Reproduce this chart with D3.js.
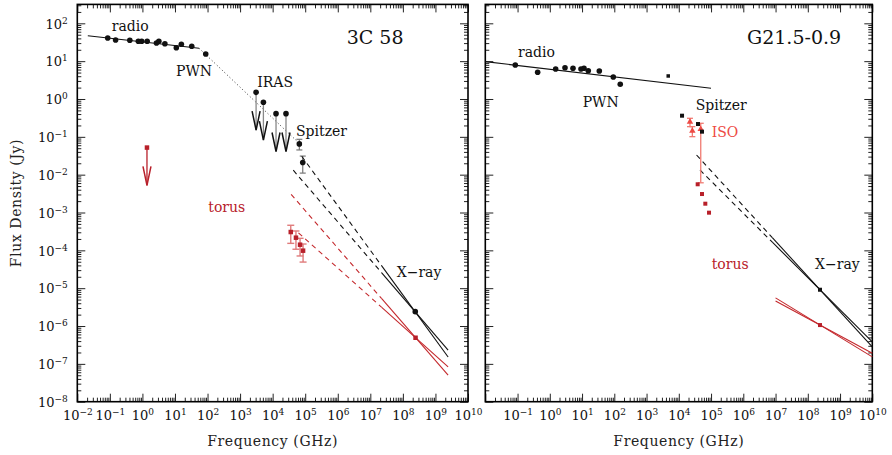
<!DOCTYPE html>
<html>
<head>
<meta charset="utf-8">
<title>3C 58 / G21.5-0.9</title>
<style>
  body { margin: 0; background: #fff; }
  svg text { font-family: "DejaVu Serif", serif; }
</style>
</head>
<body>
<svg width="892" height="455"></svg>
<script src="https://cdnjs.cloudflare.com/ajax/libs/d3/7.8.5/d3.min.js"></script>
<script>
// ---- 3C 58 (left panel) ----
const radio3cFreq = [0.086, 0.15, 0.41, 0.75, 0.95, 1.4, 2.7, 3.2, 4.9, 11, 15.7, 32.7, 88];
const radio3cFlux = [40.9, 36.2, 35.6, 33.5, 33.5, 33.5, 30.2, 33.5, 28.9, 22.7, 27.9, 24.7, 15.5];
const radio3cFitFreq = [0.021, 55];
const radio3cFitFlux = [47, 21.9];
const break3cFreq = [55, 8.6e4];
const break3cFlux = [21.9, 0.054];
const iras3cFreq = [3.1e3, 5.2e3, 1.27e4, 2.57e4];
const iras3cFlux = [1.5, 0.82, 0.41, 0.41];
const spitzer3cFreq = [6.6e4, 8.4e4];
const spitzer3cFlux = [0.065, 0.021];
const spitzer3cLo = [0.045, 0.011];
const spitzer3cHi = [0.086, 0.031];
const torusLimit3cFreq = [1.38];
const torusLimit3cFlux = [0.052];
const torus3cFreq = [3.6e4, 5.2e4, 6.95e4, 8.6e4];
const torus3cFlux = [3.05e-4, 2.16e-4, 1.41e-4, 9.8e-5];
const torus3cLo = [1.53e-4, 1.07e-4, 7.1e-5, 4.9e-5];
const torus3cHi = [4.6e-4, 3.25e-4, 2.08e-4, 1.47e-4];
const xray3cFreq = [2.4e8];
const xray3cFlux = [2.4e-6];
const xrayTorus3cFreq = [2.45e8];
const xrayTorus3cFlux = [4.9e-7];
// power laws: [dashed start, solid start, solid end]
const xray3cModelFreq = [[4.3e4, 2.24e7, 2.45e9], [7.8e4, 2.24e7, 2.45e9]];
const xray3cModelFlux = [[1.31e-2, 2.54e-5, 2.31e-7], [3.07e-2, 3.88e-5, 1.52e-7]];
const torusX3cModelFreq = [[3.7e4, 2.24e7, 2.45e9], [6.2e4, 2.24e7, 2.45e9]];
const torusX3cModelFlux = [[3.01e-3, 5.27e-6, 5.04e-8], [2.91e-4, 3.11e-6, 8.36e-8]];

// ---- G21.5-0.9 (right panel) ----
const radioG21Freq = [0.085, 0.42, 1.52, 2.96, 5.24, 9.27, 11.5, 15.6, 34.3, 93, 153];
const radioG21Flux = [7.9, 5.1, 6.2, 6.7, 6.5, 6.2, 6.5, 5.6, 5.5, 3.8, 2.45];
const radioG21SqFreq = [4.7e3];
const radioG21SqFlux = [4.06];
const radioG21FitFreq = [0.01, 1e5];
const radioG21FitFlux = [9.7, 1.92];
const spitzerG21Freq = [1.26e4, 3.94e4, 5.24e4];
const spitzerG21Flux = [0.362, 0.218, 0.137];
const isoG21Freq = [2.22e4, 2.63e4, 4.79e4];
const isoG21Flux = [0.25, 0.143, 0.16];
const isoG21Lo = [0.186, 0.101, 0.0061];
const isoG21Hi = [0.309, 0.186, 0.228];
const torusG21Freq = [3.85e4, 5.24e4, 6.64e4, 8.65e4];
const torusG21Flux = [5.57e-3, 3.08e-3, 1.71e-3, 9.9e-4];
const xrayG21Freq = [2.39e8];
const xrayG21Flux = [9.1e-6];
const xrayTorusG21Freq = [2.39e8];
const xrayTorusG21Flux = [1.06e-6];
const xrayG21ModelFreq = [[4.54e4, 7.94e6, 1e10], [3.55e4, 7.94e6, 1e10]];
const xrayG21ModelFlux = [[1.33e-2, 1.64e-4, 3.81e-7], [3.31e-2, 2.16e-4, 2.83e-7]];
const torusXG21ModelFreq = [[1e7, 1e10], [1e7, 1e10]];
const torusXG21ModelFlux = [[4.58e-6, 1.91e-7], [5.55e-6, 1.53e-7]];

// tick values
const xDecades = d3.range(-2, 11).map(e => Math.pow(10, e));
const yDecades = d3.range(-8, 3).map(e => Math.pow(10, e));
const xMinor = [];
for (let e = -2; e < 10; e++) for (let k = 2; k < 10; k++) xMinor.push(k * Math.pow(10, e));
const yMinor = [];
for (let e = -8; e <= 2; e++) for (let k = 2; k < 10; k++) if (k * Math.pow(10, e) < Math.pow(10, 2.5)) yMinor.push(k * Math.pow(10, e));

const RED = "#b8202a", RED_LINE = "#c4282c", RED_ERR = "#e07b7b", ISO_RED = "#ee4a44";

const svg = d3.select("svg");
const y = d3.scaleLog().domain([1e-8, Math.pow(10, 2.5)]).range([401.7, 4.4]);
const xL = d3.scaleLog().domain([1e-2, 1e10]).range([77.3, 468]);
const xR = d3.scaleLog().domain([1e-2, 1e10]).range([485.3, 872.3]);

const zip = (a, b) => a.map((v, i) => [v, b[i]]);

function sup(sel, d) {
  const e = Math.round(Math.log10(d));
  sel.text(null);
  sel.append("tspan").text("10");
  sel.append("tspan").attr("dy", -5).attr("font-size", 9).text(String(e).replace("-", "\u2212"));
}

function axes(x, xLabels, yLabels) {
  const [x0, x1] = x.range();
  const [yb, yt] = y.range();
  const tick = (g) => { g.select(".domain").remove(); g.selectAll("line").attr("stroke", "#222"); };

  // bottom
  svg.append("g").attr("transform", `translate(0,${yb})`)
    .call(d3.axisBottom(x).tickValues(xMinor).tickSize(-4).tickFormat(""))
    .call(tick);
  const gb = svg.append("g").attr("transform", `translate(0,${yb})`)
    .call(d3.axisBottom(x).tickValues(xDecades).tickSize(-8).tickFormat(""))
    .call(tick);
  gb.selectAll(".tick text")
    .attr("y", 18.5).attr("dy", null)
    .attr("font-size", 13).attr("fill", "#111").attr("font-family", "DejaVu Serif")
    .each(function (d) { if (xLabels.includes(d)) sup(d3.select(this), d); });

  // top
  svg.append("g").attr("transform", `translate(0,${yt})`)
    .call(d3.axisTop(x).tickValues(xMinor).tickSize(-4).tickFormat("")).call(tick);
  svg.append("g").attr("transform", `translate(0,${yt})`)
    .call(d3.axisTop(x).tickValues(xDecades).tickSize(-8).tickFormat("")).call(tick);

  // left
  svg.append("g").attr("transform", `translate(${x0},0)`)
    .call(d3.axisLeft(y).tickValues(yMinor).tickSize(-4).tickFormat("")).call(tick);
  const gl = svg.append("g").attr("transform", `translate(${x0},0)`)
    .call(d3.axisLeft(y).tickValues(yDecades).tickSize(-8).tickFormat("")).call(tick);
  if (yLabels) {
    gl.selectAll(".tick text")
      .attr("x", -9.5).attr("dy", "0.36em")
      .attr("font-size", 13).attr("fill", "#111").attr("font-family", "DejaVu Serif")
      .each(function (d) { sup(d3.select(this), d); });
  }

  // right
  svg.append("g").attr("transform", `translate(${x1},0)`)
    .call(d3.axisRight(y).tickValues(yMinor).tickSize(-4).tickFormat("")).call(tick);
  svg.append("g").attr("transform", `translate(${x1},0)`)
    .call(d3.axisRight(y).tickValues(yDecades).tickSize(-8).tickFormat("")).call(tick);

  svg.append("rect")
    .attr("x", x0).attr("y", yt).attr("width", x1 - x0).attr("height", yb - yt)
    .attr("fill", "none").attr("stroke", "#000").attr("stroke-width", 1.6);

  svg.append("text")
    .attr("x", (x0 + x1) / 2).attr("y", 446)
    .attr("text-anchor", "middle").attr("font-size", 14).attr("letter-spacing", 0.6)
    .attr("fill", "#222")
    .text("Frequency (GHz)");
}

function line(x, pts, color, width, dash) {
  svg.append("path")
    .datum(pts)
    .attr("d", d3.line().x(d => x(d[0])).y(d => y(d[1])))
    .attr("fill", "none").attr("stroke", color).attr("stroke-width", width)
    .attr("stroke-dasharray", dash || null);
}

function circles(x, pts, color, r) {
  svg.append("g").selectAll("circle").data(pts).enter().append("circle")
    .attr("cx", d => x(d[0])).attr("cy", d => y(d[1])).attr("r", r).attr("fill", color);
}

function squares(x, pts, color, s) {
  svg.append("g").selectAll("rect").data(pts).enter().append("rect")
    .attr("x", d => x(d[0]) - s / 2).attr("y", d => y(d[1]) - s / 2)
    .attr("width", s).attr("height", s).attr("fill", color);
}

function errbars(x, freq, lo, hi, color, cap, width) {
  const g = svg.append("g").attr("stroke", color).attr("stroke-width", width || 1.2).attr("fill", "none");
  freq.forEach((f, i) => {
    const cx = x(f);
    g.append("line").attr("x1", cx).attr("x2", cx).attr("y1", y(lo[i])).attr("y2", y(hi[i]));
    g.append("line").attr("x1", cx - cap).attr("x2", cx + cap).attr("y1", y(lo[i])).attr("y2", y(lo[i]));
    g.append("line").attr("x1", cx - cap).attr("x2", cx + cap).attr("y1", y(hi[i])).attr("y2", y(hi[i]));
  });
}

function limits(x, pts, shaft, head) {
  pts.forEach(d => {
    const cx = x(d[0]), y0 = y(d[1]), y1 = y(d[1] / 10);
    svg.append("line").attr("x1", cx).attr("x2", cx).attr("y1", y0).attr("y2", y1)
      .attr("stroke", shaft).attr("stroke-width", 1.3);
    svg.append("path").attr("d", `M${cx - 4},${y1 - 19}L${cx},${y1}L${cx + 4},${y1 - 19}`)
      .attr("fill", "none").attr("stroke", head).attr("stroke-width", 1.5);
  });
}

function model(x, freqs, fluxes, color) {
  freqs.forEach((fr, i) => {
    const pts = zip(fr, fluxes[i]);
    if (pts.length === 3) {
      line(x, pts.slice(0, 2), color, 1.1, "5,4");
      line(x, pts.slice(1), color, 1.1);
    } else {
      line(x, pts, color, 1.1);
    }
  });
}

function label(x0, y0, txt, color, size, family) {
  svg.append("text").attr("x", x0).attr("y", y0)
    .attr("font-size", size || 14).attr("fill", color || "#111")
    .attr("font-family", family || "DejaVu Serif")
    .text(txt);
}

// ---------- left panel ----------
axes(xL, xDecades, true);

svg.append("text")
  .attr("transform", "translate(21,203) rotate(-90)")
  .attr("text-anchor", "middle").attr("font-size", 14).attr("letter-spacing", 0.6)
  .attr("fill", "#222")
  .text("Flux Density (Jy)");

line(xL, zip(radio3cFitFreq, radio3cFitFlux), "#111", 1.1);
line(xL, zip(break3cFreq, break3cFlux), "#333", 1, "1,2.5");
circles(xL, zip(radio3cFreq, radio3cFlux), "#111", 2.8);
limits(xL, zip(iras3cFreq, iras3cFlux), "#888", "#111");
circles(xL, zip(iras3cFreq, iras3cFlux), "#111", 2.8);
errbars(xL, spitzer3cFreq, spitzer3cLo, spitzer3cHi, "#777", 3);
circles(xL, zip(spitzer3cFreq, spitzer3cFlux), "#111", 2.8);
limits(xL, zip(torusLimit3cFreq, torusLimit3cFlux), RED, RED);
squares(xL, zip(torusLimit3cFreq, torusLimit3cFlux), RED, 4.5);
model(xL, xray3cModelFreq, xray3cModelFlux, "#111");
model(xL, torusX3cModelFreq, torusX3cModelFlux, RED_LINE);
errbars(xL, torus3cFreq, torus3cLo, torus3cHi, RED_ERR, 3.5, 1.4);
squares(xL, zip(torus3cFreq, torus3cFlux), RED, 4.5);
circles(xL, zip(xray3cFreq, xray3cFlux), "#111", 2.8);
squares(xL, zip(xrayTorus3cFreq, xrayTorus3cFlux), RED, 4.5);

label(111.7, 30.5, "radio");
label(176, 75.5, "PWN");
label(257.3, 87, "IRAS");
label(296, 136, "Spitzer");
label(208.3, 212, "torus", RED);
label(396.7, 277, "X\u2212ray");
label(346.7, 44, "3C 58", "#111", 19, "Lato");

// ---------- right panel ----------
axes(xR, xDecades.slice(1), false);

line(xR, zip(radioG21FitFreq, radioG21FitFlux), "#111", 1.1);
circles(xR, zip(radioG21Freq, radioG21Flux), "#111", 2.8);
squares(xR, zip(radioG21SqFreq, radioG21SqFlux), "#111", 3.5);
model(xR, xrayG21ModelFreq, xrayG21ModelFlux, "#111");
model(xR, torusXG21ModelFreq, torusXG21ModelFlux, RED_LINE);
errbars(xR, isoG21Freq, isoG21Lo, isoG21Hi, "#f07a72", 3, 1.3);
svg.append("g").selectAll("path").data(zip(isoG21Freq, isoG21Flux)).enter().append("path")
  .attr("transform", d => `translate(${xR(d[0])},${y(d[1])})`)
  .attr("d", d3.symbol(d3.symbolTriangle, 18))
  .attr("fill", ISO_RED);
squares(xR, zip(spitzerG21Freq, spitzerG21Flux), "#111", 4);
squares(xR, zip(torusG21Freq, torusG21Flux), RED, 4);
squares(xR, zip(xrayG21Freq, xrayG21Flux), "#111", 4);
squares(xR, zip(xrayTorusG21Freq, xrayTorusG21Flux), RED, 4);

label(518, 57, "radio");
label(582.7, 106.7, "PWN");
label(695.7, 110, "Spitzer");
label(711.7, 136.7, "ISO", ISO_RED);
label(711.7, 269.3, "torus", RED);
label(815, 269.3, "X\u2212ray");
label(747, 44, "G21.5-0.9", "#111", 19, "Lato");
</script>
</body>
</html>
